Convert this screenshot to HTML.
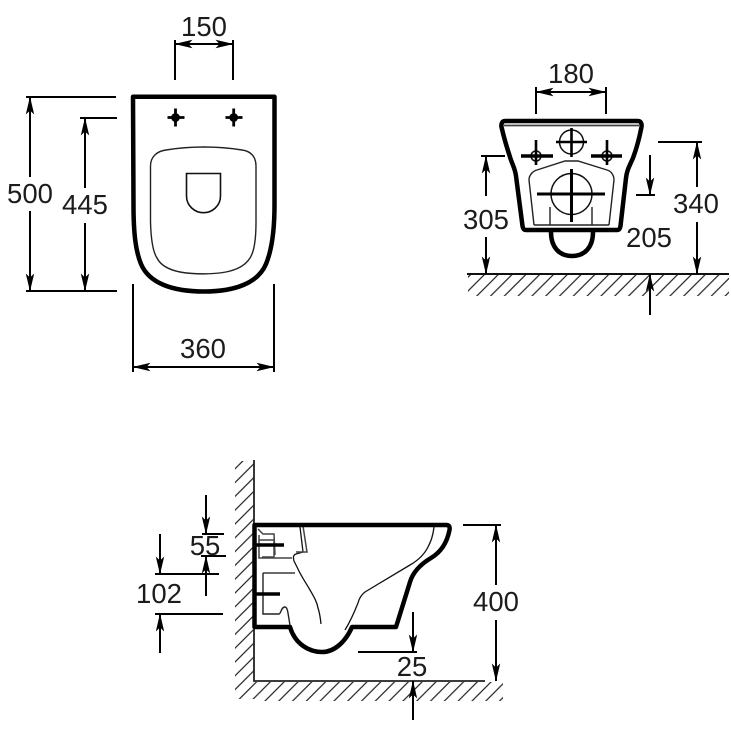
<!DOCTYPE html>
<html><head><meta charset="utf-8">
<style>
html,body{margin:0;padding:0;background:#fff;width:731px;height:731px;overflow:hidden}
svg{display:block}
text{font-family:"Liberation Sans",sans-serif;font-size:27.5px;fill:#1c1c1c;text-anchor:middle}
</style></head>
<body>
<svg width="731" height="731" viewBox="0 0 731 731" xmlns="http://www.w3.org/2000/svg">
<defs>
<marker id="a" markerUnits="userSpaceOnUse" markerWidth="18" markerHeight="10" viewBox="0 0 18 10" refX="17.500" refY="5" orient="auto-start-reverse"><path d="M18 5L0 .8L4 5L0 9.200Z" fill="#000"/></marker>
<pattern id="hb" patternUnits="userSpaceOnUse" width="13.8" height="13.8" x="0" y="0"><path d="M-1 14.8L14.8-1M-3 3L3-3M10.8 16.8L16.8 10.8" stroke="#222" stroke-width="1.200" fill="none"/></pattern>
</defs>

<!-- hatches -->
<rect x="468" y="275" width="261" height="21" fill="url(#hb)"/>
<rect x="235" y="461" width="19" height="238" fill="url(#hb)"/>
<rect x="254" y="682" width="249" height="19" fill="url(#hb)"/>
<path d="M467 274H729" stroke="#111" stroke-width="2" fill="none"/>
<path d="M254 460V681H485" stroke="#222" stroke-width="1.800" fill="none"/>

<!-- TOP VIEW -->
<path d="M133 96.7H274.5V205C274.5 235 271 252 266 264C258 283 235 291.5 204 291.5C172 291.5 149 283 141 264C136 252 133.500 235 133.500 205Z" fill="#fff" stroke="#000" stroke-width="4.500" stroke-linejoin="round"/>
<path d="M150.500 166C150.500 156 158 151 166 150C190 146 218 146 242 150C250 151 256 156 256 166V222C256 240 254 252 250 258C245 266 236 270 226 272C212 274.500 194 274.500 180 272C170 270 161 266 157 258C153 252 151 240 150.500 222Z" fill="none" stroke="#222" stroke-width="1.400"/>
<path d="M186.500 173.500H220.500V196C220.500 206 212 212.700 203.500 212.700C195 212.700 186.500 206 186.500 196Z" fill="none" stroke="#111" stroke-width="1.600"/>
<g stroke="#000" stroke-width="2.800" fill="#000">
<path d="M167.500 117.500H184.500M175.500 108.500V126.500"/><circle cx="175.500" cy="117.500" r="3"/>
<path d="M225.500 117.500H242.500M233.700 108.500V126.500"/><circle cx="233.700" cy="117.500" r="3"/>
</g>
<g stroke="#000" stroke-width="2" fill="none">
<path d="M175 40V80M233 40V80"/>
<path d="M175 44H233" marker-start="url(#a)" marker-end="url(#a)"/>
<path d="M26 97H116M26 291H117M80 118H117"/>
<path d="M30 177V97" marker-end="url(#a)"/><path d="M30 211V291" marker-end="url(#a)"/>
<path d="M85 188V118" marker-end="url(#a)"/><path d="M85 223V291" marker-end="url(#a)"/>
<path d="M133 284V372M274 284V372"/>
<path d="M133 367H274" marker-start="url(#a)" marker-end="url(#a)"/>
</g>
<text x="204" y="36">150</text>
<text x="30" y="203">500</text>
<text x="85" y="214">445</text>
<text x="203" y="358">360</text>

<!-- FRONT VIEW -->
<path d="M505 121H638C641 121 642 124 641.500 127C639 140 636 150 633 158C629 167 627 170 626 178L620.500 226C620 229 619 230 617 230H526C524 230 523 229 522.500 226L516 176C515 168 512 164 510 157C507 148 504 138 501.500 127C501 124 502 121 505 121Z" fill="#fff" stroke="#000" stroke-width="4.500" stroke-linejoin="round"/>
<path d="M551 232C551 247 559 256 572 256C585 256 593 247 593 232" fill="none" stroke="#000" stroke-width="4.500"/>
<path d="M504 125.500H639M534 225H609" stroke="#444" stroke-width="1.800" fill="none"/>
<path d="M534 225L529 180C529 175 533 171 537 170L565 161H578L607 170C611 171 614 175 614 180L609 225" fill="none" stroke="#222" stroke-width="1.400"/>
<path d="M550 207V225M592 207V225" stroke="#222" stroke-width="1.400" fill="none"/>
<g fill="none" stroke="#111" stroke-width="1.500">
<circle cx="571.500" cy="142" r="12"/><circle cx="536" cy="156" r="5"/><circle cx="607" cy="156" r="5"/><circle cx="571.500" cy="194" r="20.500"/>
</g>
<g stroke="#000" fill="none">
<path d="M556 142H587M571.500 128V157" stroke-width="2.600"/>
<path d="M521 156H553M591 156H622" stroke-width="3.400"/>
<path d="M536 140V165M607 140V165" stroke-width="2.600"/>
<path d="M537 194H605M571.500 169V222" stroke-width="3"/>
</g>
<g stroke="#000" stroke-width="2" fill="none">
<path d="M536 87V114M606 87V114"/>
<path d="M536 92H606" marker-start="url(#a)" marker-end="url(#a)"/>
<path d="M481 156H505M658 142H702M636 195H655"/>
<path d="M486 196V156" marker-end="url(#a)"/><path d="M486 237V274" marker-end="url(#a)"/>
<path d="M697 187V142" marker-end="url(#a)"/><path d="M697 222V274" marker-end="url(#a)"/>
<path d="M650 155V195" marker-end="url(#a)"/><path d="M650 315V274" marker-end="url(#a)"/>
</g>
<text x="571" y="83">180</text>
<text x="486" y="229">305</text>
<text x="696" y="213">340</text>
<text x="649" y="247">205</text>

<!-- SIDE VIEW -->
<path d="M434 527C433 536 431 541 428 547C424 555 417 561 410 565L365 592C361 595 359 599 358 603C354 613 350 622 345 630" fill="none" stroke="#111" stroke-width="1.300"/>
<path d="M300 527L303 552L296 554C293 555 293 558 294 561L297 567C301 576 306 583 310 590C314 597 317 602 318 608C320 614 320.500 619 321 624" fill="none" stroke="#111" stroke-width="1.300"/>
<path d="M303 526L307 552L296 552M258 529L263 534H274L275 555M259 535V558H292M259 540L274 540L274 557H262" fill="none" stroke="#444" stroke-width="1.500"/>
<path d="M263 573H295" stroke="#555" stroke-width="1.800" fill="none"/>
<path d="M263 573V614H279C281 614 281 607 285 607C288 607 288 615 290 625" fill="none" stroke="#222" stroke-width="1.400"/>
<path d="M254.500 525H446C449.500 525 450 527 449.500 530C447 543 441 552 431 558C421 564 413 572 410 582L396 627H352C346 641 335 652 322 652C309 652 295 644 290 627H254.500Z" fill="none" stroke="#000" stroke-width="4.500" stroke-linejoin="round"/>
<path d="M255 545H284M255 594H280" stroke="#000" stroke-width="3.500" fill="none"/>
<g stroke="#000" stroke-width="2" fill="none">
<path d="M202 534H224M201 556H226M155 574H219M155 614H223M463 525H501M358 652H417"/>
<path d="M206 495V534" marker-end="url(#a)"/><path d="M206 596V556" marker-end="url(#a)"/>
<path d="M160 534V574" marker-end="url(#a)"/><path d="M160 653V614" marker-end="url(#a)"/>
<path d="M496 585V525" marker-end="url(#a)"/><path d="M496 620V681" marker-end="url(#a)"/>
<path d="M413 612V652" marker-end="url(#a)"/><path d="M413 720V681" marker-end="url(#a)"/>
</g>
<text x="205" y="555">55</text>
<text x="159" y="603">102</text>
<text x="496" y="611">400</text>
<text x="412" y="676">25</text>
</svg>
</body></html>
